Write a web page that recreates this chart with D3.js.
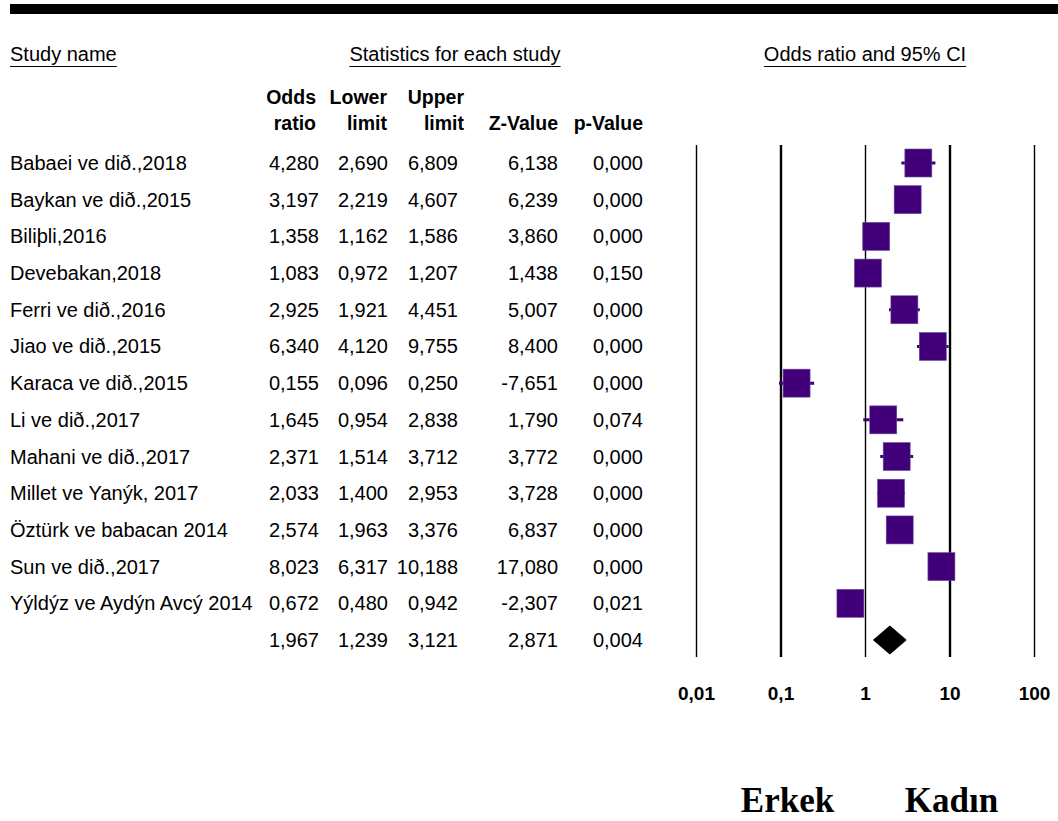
<!DOCTYPE html>
<html>
<head>
<meta charset="utf-8">
<script src="https://cdn.jsdelivr.net/npm/d3@7/dist/d3.min.js"></script>
<style>
  html, body { margin: 0; padding: 0; background: #fff; }
  svg { display: block; font-family: "Liberation Sans", Arial, sans-serif; }
</style>
</head>
<body>
<svg id="chart" width="1058" height="821"></svg>
<script>
// Study rows of the meta-analysis (odds ratios with 95% CI)
const studies = [
  "Babaei ve dið.,2018",
  "Baykan ve dið.,2015",
  "Biliþli,2016",
  "Devebakan,2018",
  "Ferri ve dið.,2016",
  "Jiao ve dið.,2015",
  "Karaca ve dið.,2015",
  "Li ve dið.,2017",
  "Mahani ve dið.,2017",
  "Millet ve Yanýk, 2017",
  "Öztürk ve babacan 2014",
  "Sun ve dið.,2017",
  "Yýldýz ve Aydýn Avcý 2014"
];
const oddsRatio  = [4.280, 3.197, 1.358, 1.083, 2.925, 6.340, 0.155, 1.645, 2.371, 2.033, 2.574, 8.023, 0.672];
const lowerLimit = [2.690, 2.219, 1.162, 0.972, 1.921, 4.120, 0.096, 0.954, 1.514, 1.400, 1.963, 6.317, 0.480];
const upperLimit = [6.809, 4.607, 1.586, 1.207, 4.451, 9.755, 0.250, 2.838, 3.712, 2.953, 3.376, 10.188, 0.942];
const zValue     = [6.138, 6.239, 3.860, 1.438, 5.007, 8.400, -7.651, 1.790, 3.772, 3.728, 6.837, 17.080, -2.307];
const pValue     = [0.000, 0.000, 0.000, 0.150, 0.000, 0.000, 0.000, 0.074, 0.000, 0.000, 0.000, 0.000, 0.021];

// Pooled estimate: odds ratio, lower, upper, Z, p
const pooled = [1.967, 1.239, 3.121, 2.871, 0.004];

const axisTicks  = [0.01, 0.1, 1, 10, 100];
const tickLabels = ["0,01", "0,1", "1", "10", "100"];
const sideLabels = ["Erkek", "Kadın"];

const svg = d3.select("#chart");
const MARK = "#41007a";
const FS = 20;

const fmt = v => d3.format(".3f")(v).replace(".", ",").replace("−", "-");

// scales
const nRows = studies.length + 1;
const y = d3.scaleLinear().domain([0, nRows - 1]).range([163, 640]);
const x = d3.scaleLog().domain([0.01, 100]).range([696, 1034]);

// top rule
svg.append("rect").attr("x", 10).attr("y", 4).attr("width", 1048).attr("height", 10).attr("fill", "#000");

// section headers with underlines
const sections = [
  { text: "Study name", x: 10, anchor: "start" },
  { text: "Statistics for each study", x: 455, anchor: "middle" },
  { text: "Odds ratio and 95% CI", x: 865, anchor: "middle" }
];
sections.forEach(s => {
  const t = svg.append("text")
    .attr("x", s.x).attr("y", 61)
    .attr("text-anchor", s.anchor)
    .attr("font-size", FS)
    .text(s.text);
  const bb = t.node().getBBox();
  svg.append("line")
    .attr("x1", bb.x).attr("x2", bb.x + bb.width)
    .attr("y1", 66.5).attr("y2", 66.5)
    .attr("stroke", "#000").attr("stroke-width", 1);
});

// numeric columns
const columns = [
  { head: ["Odds", "ratio"], right: 319, hRight: 316, values: oddsRatio, pool: pooled[0] },
  { head: ["Lower", "limit"], right: 388, hRight: 387, values: lowerLimit, pool: pooled[1] },
  { head: ["Upper", "limit"], right: 458, hRight: 464, values: upperLimit, pool: pooled[2] },
  { head: ["", "Z-Value"], right: 558, hRight: 558, values: zValue, pool: pooled[3] },
  { head: ["", "p-Value"], right: 643, hRight: 643, values: pValue, pool: pooled[4] }
];

columns.forEach(c => {
  c.head.forEach((h, i) => {
    if (!h) return;
    svg.append("text")
      .attr("x", c.hRight).attr("y", 104 + i * 26)
      .attr("text-anchor", "end")
      .attr("font-weight", "bold")
      .attr("font-size", 19.5)
      .text(h);
  });
  svg.append("g").selectAll("text")
    .data(c.values.concat([c.pool]))
    .join("text")
    .attr("x", c.right)
    .attr("y", (d, i) => y(i) + 7)
    .attr("text-anchor", "end")
    .attr("font-size", FS)
    .text(d => fmt(d));
});

// study names
svg.append("g").selectAll("text")
  .data(studies)
  .join("text")
  .attr("x", 10)
  .attr("y", (d, i) => y(i) + 7)
  .attr("font-size", FS)
  .text(d => d);

// vertical reference lines and tick labels
const gridTop = 145, gridBottom = 657;
const grid = svg.append("g")
  .attr("transform", `translate(0,${gridBottom})`)
  .call(d3.axisBottom(x)
    .tickValues(axisTicks)
    .tickSize(-(gridBottom - gridTop))
    .tickPadding(0)
    .tickFormat((d, i) => tickLabels[i]));
grid.select(".domain").remove();
grid.selectAll(".tick line")
  .attr("stroke", "#000")
  .attr("stroke-width", d => (d === 0.1 || d === 10) ? 2.4 : 1.4);
grid.selectAll(".tick text")
  .attr("y", 43)
  .attr("dy", 0)
  .attr("fill", "#000")
  .attr("font-family", "'Liberation Sans', Arial, sans-serif")
  .attr("font-weight", "bold")
  .attr("font-size", 19);

// confidence intervals and study squares
const plot = svg.append("g");
const rows = studies.map((s, i) => ({ or: oddsRatio[i], lo: lowerLimit[i], hi: upperLimit[i], i }));
plot.selectAll("line.ci")
  .data(rows)
  .join("line")
  .attr("class", "ci")
  .attr("x1", d => x(d.lo)).attr("x2", d => x(d.hi))
  .attr("y1", d => y(d.i)).attr("y2", d => y(d.i))
  .attr("stroke", MARK).attr("stroke-width", 3);
const box = 27;
plot.selectAll("rect.box")
  .data(rows)
  .join("rect")
  .attr("class", "box")
  .attr("x", d => x(d.or) - box / 2)
  .attr("y", d => y(d.i) - box / 2 - 0.5)
  .attr("width", box).attr("height", box + 1)
  .attr("fill", MARK)
  .attr("stroke", "#6b4fa0").attr("stroke-width", 0.6);

// pooled diamond
const py = y(studies.length);
const dh = 14.5;
plot.append("path")
  .attr("d", `M${x(pooled[1])},${py} L${x(pooled[0])},${py - dh} L${x(pooled[2])},${py} L${x(pooled[0])},${py + dh} Z`)
  .attr("fill", "#000");

// favours labels under the plot
svg.append("g").selectAll("text")
  .data(sideLabels)
  .join("text")
  .attr("x", (d, i) => i === 0 ? x(0.1) + 7 : x(10) + 2)
  .attr("y", 812)
  .attr("text-anchor", "middle")
  .attr("font-family", "'Liberation Serif', 'Times New Roman', serif")
  .attr("font-weight", "bold")
  .attr("font-size", 35)
  .text(d => d);
</script>
</body>
</html>
